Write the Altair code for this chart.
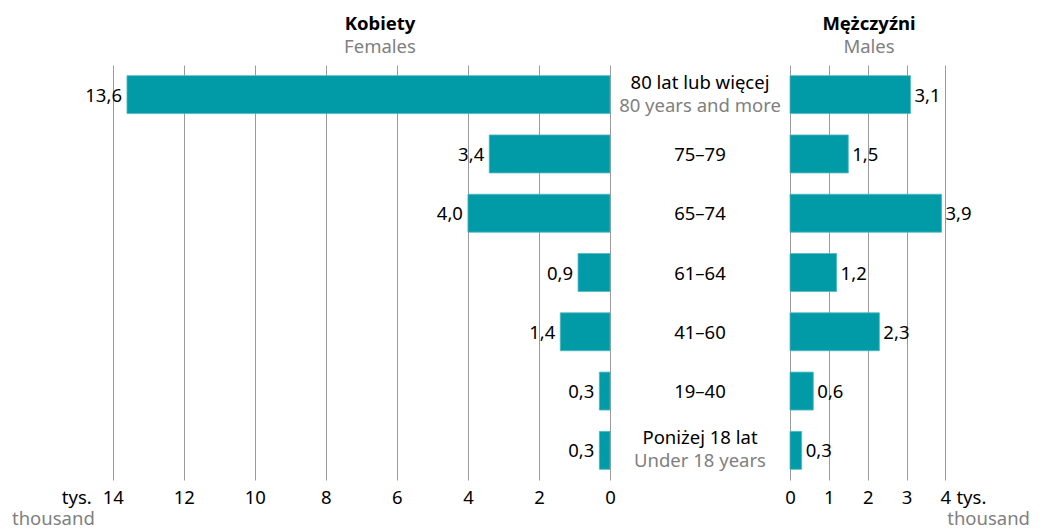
import altair as alt
import pandas as pd

# ---- data ----
ages_pl = ["80 lat lub więcej", "75–79", "65–74", "61–64", "41–60", "19–40", "Poniżej 18 lat"]
ages_en = ["80 years and more", "", "", "", "", "", "Under 18 years"]
females = [13.6, 3.4, 4.0, 0.9, 1.4, 0.3, 0.3]
males = [3.1, 1.5, 3.9, 1.2, 2.3, 0.6, 0.3]
female_ticks = [0, 2, 4, 6, 8, 10, 12, 14]
male_ticks = [0, 1, 2, 3, 4]
head_left = ["Kobiety", "Females"]
head_right = ["Mężczyźni", "Males"]
unit_pl = "tys."
unit_en = "thousand"

FONT = "Noto Sans"
FS = 18.5
TEAL = "#009BA7"
GRID = "#9a9a9a"
GREY_TXT = "#808080"
H = 415

df = pd.DataFrame({"age": ages_pl, "en": ages_en, "f": females, "m": males})

yenc = alt.Y("age:N", sort=ages_pl, axis=None,
             scale=alt.Scale(paddingInner=0.36, paddingOuter=0.18))

lab_expr = "replace(format(datum.{}, '.1f'), '.', ',')"


def axis(vals):
    return alt.Axis(values=vals, grid=True, gridColor=GRID, gridWidth=1,
                    ticks=False, tickSize=0, domain=False, labelPadding=8,
                    labelFont=FONT, labelFontSize=FS, labelColor="#000",
                    title=None, labelFlush=False)


def txt(frame, field, x, y, **kw):
    return alt.Chart(frame).mark_text(font=FONT, fontSize=FS, **kw).encode(
        x=x, y=y, text=f"{field}:N")


# ---- left (females) ----
fx = alt.X("f:Q", scale=alt.Scale(domain=[0, 16.95], reverse=True, nice=False, zero=True),
           axis=axis(female_ticks))
base_l = alt.Chart(df).encode(y=yenc)
bars_l = base_l.mark_bar(color=TEAL, stroke="#4fb8c0", strokeWidth=0.8).encode(x=fx)
txt_l = base_l.transform_calculate(lab=lab_expr.format("f")).mark_text(
    align="right", baseline="alphabetic", dx=-5, dy=7, font=FONT, fontSize=FS, color="#000"
).encode(x=alt.X("f:Q"), text="lab:N")

head_l1 = txt(pd.DataFrame({"t": [head_left[0]]}), "t", alt.value(372), alt.value(-35),
              fontWeight="bold", color="#000", baseline="alphabetic")
head_l2 = txt(pd.DataFrame({"t": [head_left[1]]}), "t", alt.value(372), alt.value(-12),
              color=GREY_TXT, baseline="alphabetic")
unit_l1 = txt(pd.DataFrame({"t": [unit_pl], "v": [14]}), "t", alt.X("v:Q"), alt.value(H + 24),
              color="#000", align="right", baseline="alphabetic", dx=-21)
unit_l2 = txt(pd.DataFrame({"t": [unit_en]}), "t", alt.value(4), alt.value(H + 45),
              color=GREY_TXT, align="left", baseline="alphabetic")

left = alt.layer(bars_l, txt_l, head_l1, head_l2, unit_l1, unit_l2).properties(width=602, height=H)

# ---- middle (labels) ----
base_m = alt.Chart(df).encode(y=yenc, x=alt.value(90))
m_single = base_m.transform_filter("datum.en == ''").mark_text(
    font=FONT, fontSize=FS, color="#000", baseline="alphabetic", dy=7).encode(text="age:N")
m_pl = base_m.transform_filter("datum.en != ''").mark_text(
    font=FONT, fontSize=FS, color="#000", baseline="alphabetic", dy=-6).encode(text="age:N")
m_en = base_m.transform_filter("datum.en != ''").mark_text(
    font=FONT, fontSize=FS, color=GREY_TXT, baseline="alphabetic", dy=17).encode(text="en:N")
middle = alt.layer(m_single, m_pl, m_en).properties(width=180, height=H)

# ---- right (males) ----
mx = alt.X("m:Q", scale=alt.Scale(domain=[0, 6.28], nice=False, zero=True),
           axis=axis(male_ticks))
base_r = alt.Chart(df).encode(y=yenc)
bars_r = base_r.mark_bar(color=TEAL, stroke="#4fb8c0", strokeWidth=0.8).encode(x=mx)
txt_r = base_r.transform_calculate(lab=lab_expr.format("m")).mark_text(
    align="left", baseline="alphabetic", dx=4, dy=7, font=FONT, fontSize=FS, color="#000"
).encode(x=alt.X("m:Q"), text="lab:N")
head_r1 = txt(pd.DataFrame({"t": [head_right[0]]}), "t", alt.value(79), alt.value(-35),
              fontWeight="bold", color="#000", baseline="alphabetic")
head_r2 = txt(pd.DataFrame({"t": [head_right[1]]}), "t", alt.value(79), alt.value(-12),
              color=GREY_TXT, baseline="alphabetic")
unit_r1 = txt(pd.DataFrame({"t": [unit_pl], "v": [4]}), "t", alt.X("v:Q"), alt.value(H + 24),
              color="#000", align="left", baseline="alphabetic", dx=11)
unit_r2 = txt(pd.DataFrame({"t": [unit_en]}), "t", alt.value(240), alt.value(H + 45),
              color=GREY_TXT, align="right", baseline="alphabetic")
right = alt.layer(bars_r, txt_r, head_r1, head_r2, unit_r1, unit_r2).properties(width=244, height=H)

chart = alt.hconcat(left, middle, right, spacing=0, bounds="flush").properties(
    padding={"left": 0, "top": 7, "right": 0, "bottom": 0}
).configure_view(stroke=None).configure_concat(spacing=0)

chart.save("out.html", embed_options={"renderer": "svg", "actions": False})
